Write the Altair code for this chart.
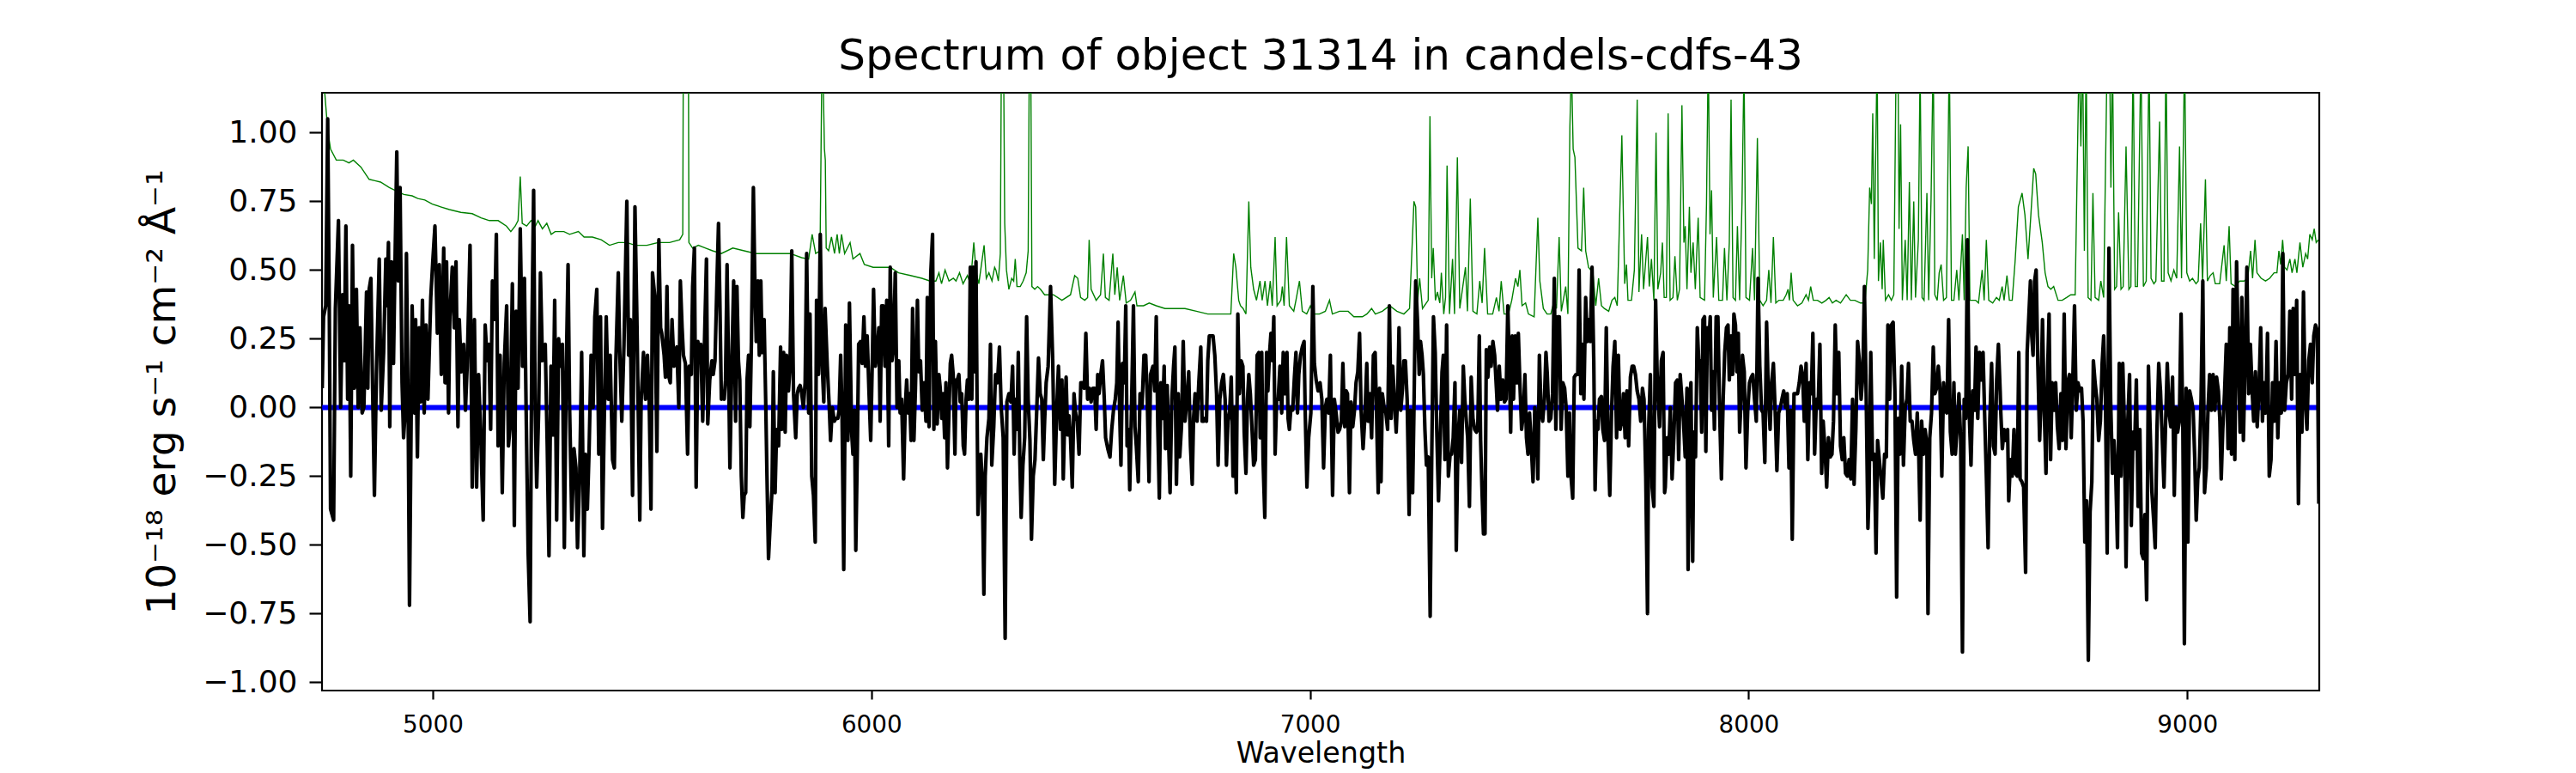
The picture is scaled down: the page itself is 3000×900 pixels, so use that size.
import altair as alt
import pandas as pd

# ---------------- data ----------------
# observed flux (black), pairs of [wavelength (Angstrom), flux (1e-18 erg/s/cm2/A)]
flux_seg1 = [
    [4748, 0.07], [4751, 0.33], [4756, 0.37], [4760.5, 1.05], [4764, 0.39], [4767, -0.37], [4774, -0.41],
    [4778, 0.36], [4785, 0.68], [4790, 0.00], [4794.5, 0.41], [4798, 0.17], [4802, 0.66], [4806, 0.03],
    [4809.5, 0.37], [4813, -0.25], [4817, 0.59], [4821, 0.07], [4826, 0.43], [4830, 0.00], [4834, 0.29],
    [4839, -0.02], [4843, 0.00], [4849, 0.42], [4852, 0.07], [4855, 0.43], [4859, 0.47], [4863, 0.06],
    [4867, -0.32], [4871.5, 0.12], [4878, 0.54], [4882.5, -0.01], [4888, 0.20], [4893, 0.54], [4895.5, 0.37],
    [4899, 0.60], [4902, -0.07], [4906, 0.53], [4910.5, 0.16], [4914, 0.53], [4918, 0.93], [4921.5, 0.46],
    [4925.5, 0.80], [4930, 0.09], [4933.5, -0.11], [4937, -0.02], [4940, 0.56], [4944, -0.04], [4947, -0.72],
    [4953, 0.37], [4958, -0.02], [4961, 0.32], [4965, -0.18], [4969, 0.29], [4972.5, 0.02], [4976.5, 0.39],
    [4980.5, -0.02], [4984.5, 0.30], [4989, 0.03], [4995.5, 0.40], [5000, 0.53], [5005, 0.66], [5010.5, 0.27],
    [5015, 0.52], [5019.5, 0.12], [5025, 0.58], [5028, 0.09], [5031.5, 0.53], [5036, -0.02], [5039, 0.33],
    [5044.5, 0.51], [5049, 0.29], [5053, 0.53], [5057.5, -0.07], [5060.5, 0.32], [5065, 0.13], [5070.5, 0.23],
    [5074.5, -0.01], [5078.5, 0.15], [5085, 0.59], [5090, -0.29], [5095, 0.32], [5100, -0.29], [5104.5, 0.12],
    [5109.5, -0.11], [5115, -0.41], [5119.5, 0.30], [5124, 0.17], [5128, 0.23], [5132, -0.08], [5136, 0.46],
    [5141, 0.32], [5145, 0.63], [5149, -0.14], [5153.5, 0.19], [5158.5, -0.31], [5163, 0.16], [5168.5, 0.37],
    [5172.5, -0.14], [5176.5, -0.07], [5181.5, 0.45], [5186, -0.43], [5190, 0.35], [5194.5, 0.07], [5199.5, 0.65],
    [5204.5, 0.15], [5209, 0.47], [5213, -0.02], [5217.5, -0.53], [5222, -0.78], [5226, 0.27], [5230, 0.79],
    [5233.5, -0.01], [5237, -0.29], [5241.5, -0.01], [5245.5, 0.49], [5250, 0.17], [5256.5, 0.23], [5261, -0.14],
    [5265, -0.54], [5269.5, 0.15], [5274, -0.10], [5278, 0.39], [5282.5, -0.41], [5287, 0.25], [5291, 0.15],
    [5295.5, 0.23], [5300, -0.51], [5304, 0.10], [5308.5, 0.52], [5312, 0.00], [5317, -0.41], [5322, -0.15],
    [5326.5, -0.22], [5330, -0.51], [5335, -0.25], [5339.5, 0.20], [5344.5, -0.54], [5348, -0.17], [5352.5, -0.37],
    [5356.5, -0.15], [5361, 0.19], [5365.5, 0.00], [5369.5, 0.33], [5374, 0.43], [5378.5, -0.17], [5382.5, 0.33],
    [5387, -0.44], [5391.5, 0.00], [5395.5, 0.33], [5400, 0.03], [5404.5, 0.19], [5410, -0.19], [5414, -0.22],
    [5417.5, 0.17], [5423, 0.49], [5426, 0.22], [5431, -0.05], [5436, 0.23], [5442.5, 0.75], [5446.5, 0.19],
    [5450.5, 0.32], [5455.5, -0.32], [5461, 0.73], [5465.5, 0.32], [5472, -0.41], [5475, 0.02], [5480.5, 0.20],
    [5485, 0.03], [5489.5, 0.19], [5493.5, 0.02], [5497.5, -0.37], [5501, 0.49], [5506.5, 0.40], [5511, -0.16],
    [5515.5, 0.61], [5519.5, 0.29],
]
flux_seg2 = [
    [5522, 0.27], [5527.5, 0.19], [5530.5, 0.11], [5534, 0.44], [5537, 0.12], [5541.5, 0.09], [5545.5, 0.32],
    [5550, 0.15], [5553.5, 0.20], [5556.5, 0.22], [5561, 0.00], [5564.5, 0.46], [5568.5, 0.29], [5571.5, 0.19],
    [5576, 0.16], [5581, -0.17], [5584.5, 0.15], [5589.5, 0.12], [5592.5, 0.44], [5596.5, 0.58], [5600.5, -0.29],
    [5604.5, 0.24], [5607.5, 0.17], [5611, 0.23], [5615.5, -0.05], [5618.5, 0.17], [5624, 0.54], [5627, -0.06],
    [5631.5, 0.10], [5636.5, 0.17], [5639.5, 0.12], [5643.5, 0.17], [5647.5, 0.43], [5651.5, 0.67], [5654.5, 0.40],
    [5658, 0.03], [5661, 0.06], [5664.5, 0.03], [5667.5, 0.10], [5671, 0.52], [5674, 0.19], [5677.5, -0.22],
    [5682, 0.17], [5686, 0.46], [5690.5, -0.05], [5693.5, 0.44], [5697, 0.17], [5700, 0.10], [5703.5, -0.25],
    [5707, -0.40], [5710, -0.32], [5713.5, -0.31], [5716.5, 0.10], [5720, 0.19], [5723, -0.07], [5726.5, 0.24],
    [5731, 0.80], [5734, 0.49], [5737.5, 0.24], [5741.5, 0.46], [5744.5, 0.19], [5748, 0.46], [5751, 0.20],
    [5755.5, 0.32], [5759, 0.03], [5762, -0.25], [5765.5, -0.55], [5770, -0.40], [5773.5, -0.30], [5776.5, 0.13],
    [5780.5, -0.31], [5784, -0.08], [5788.5, -0.14], [5793, 0.22], [5796, -0.08], [5800, 0.20], [5803.5, -0.09],
    [5806.5, 0.19], [5811, 0.06], [5814.5, 0.15], [5818.5, 0.57], [5822.5, 0.05], [5827.5, -0.11], [5831, 0.05],
    [5834, 0.07], [5837.5, 0.08], [5840.5, 0.06], [5845, 0.00], [5849, 0.09], [5852.5, 0.56], [5857, -0.02],
    [5860, 0.34], [5864, -0.25], [5868, -0.32], [5872, -0.49], [5875, 0.39], [5879.5, 0.12], [5883.5, 0.63],
    [5887.5, 0.17], [5891.5, 0.02], [5894.5, 0.36], [5899.5, 0.15], [5904, 0.00], [5907, -0.12], [5911, 0.00],
    [5915.5, -0.05], [5919, -0.04], [5923.5, -0.04], [5926.5, -0.01], [5930, 0.19], [5933, -0.01], [5937, -0.59],
    [5941.5, 0.30], [5946.5, -0.12], [5950, 0.38], [5955, -0.09], [5958, -0.17], [5961.5, -0.01], [5964.5, -0.52],
    [5968, -0.15], [5971, 0.23], [5975.5, 0.24], [5979, 0.16], [5983, 0.33], [5986.5, 0.15], [5990.5, 0.26],
    [5994.5, 0.06], [5998.5, -0.12], [6002.5, 0.20], [6005, 0.43], [6009, 0.15], [6013, 0.20], [6017, 0.29],
    [6020, -0.05], [6023.5, 0.37], [6027, 0.37], [6031, 0.15], [6035, 0.39], [6039.5, -0.14], [6043, 0.51],
    [6047, 0.17], [6050.5, 0.22], [6054.5, 0.49], [6058.5, 0.00], [6062.5, 0.17], [6065.5, -0.02], [6069, 0.03],
    [6073.5, -0.26], [6077, -0.01], [6080.5, 0.10], [6084, -0.02], [6087, 0.05], [6090.5, -0.12], [6094, 0.36],
    [6097, -0.12], [6100.5, 0.07], [6105, 0.39], [6108, 0.13], [6112, 0.17], [6116, -0.01], [6120, 0.09],
    [6124.5, -0.05], [6127.5, 0.40], [6131.5, -0.07], [6135.5, 0.49], [6139.5, 0.63], [6142.5, -0.08], [6146, 0.24],
    [6150, -0.06], [6154, 0.12], [6157, 0.07], [6160.5, -0.04], [6163.5, 0.05], [6167, -0.11], [6170, 0.09],
    [6173.5, -0.22], [6176.5, -0.04], [6180, 0.16], [6183, 0.19], [6186.5, 0.12], [6190.5, -0.17], [6193, 0.10],
    [6196, 0.10], [6199.5, 0.12], [6202.5, 0.02], [6206, 0.05], [6209.5, -0.14], [6212.5, -0.17], [6216, 0.03],
    [6219, 0.10], [6222.5, 0.03], [6225.5, 0.51], [6229, 0.03], [6232, 0.51], [6235.5, 0.13], [6238.5, 0.53],
    [6243, -0.39], [6246.5, -0.26], [6249.5, -0.17], [6253, -0.28], [6256.5, -0.68], [6259.5, -0.25], [6263.5, -0.11],
    [6268, -0.04], [6271.5, 0.23], [6274.5, -0.21], [6279, -0.07], [6283, 0.12],
]
flux_seg3 = [
    [6287.5, 0.09], [6292, 0.22], [6296, 0.00], [6300.5, -0.11], [6305, -0.84], [6309, 0.02], [6313.5, 0.05],
    [6318, 0.02], [6322, 0.15], [6325.5, -0.17], [6328.5, 0.03], [6332, -0.08], [6335, 0.20], [6338.5, -0.19],
    [6341.5, -0.40], [6345.5, -0.21], [6349.5, -0.11], [6354, 0.33], [6357.5, 0.03], [6361.5, -0.12], [6365, -0.48],
    [6369, -0.25], [6373, -0.19], [6377, -0.01], [6381, 0.18], [6385, 0.05], [6388.5, 0.03], [6392, -0.19],
    [6395, -0.05], [6398.5, 0.09], [6403, 0.15], [6408.5, 0.44], [6413.5, 0.17], [6418, -0.28], [6422.5, -0.01],
    [6426.5, 0.15], [6431, -0.08], [6434.5, 0.10], [6437.5, -0.26], [6441, -0.02], [6444, 0.11], [6447.5, -0.10],
    [6450.5, -0.03], [6454, -0.11], [6458, -0.29], [6462, 0.05], [6465.5, -0.02], [6469.5, -0.05], [6473.5, -0.17],
    [6477.5, 0.09], [6481.5, 0.09], [6485.5, 0.07], [6489, 0.27], [6493, 0.03], [6497, 0.07], [6501, 0.02],
    [6505, 0.07], [6509, 0.07], [6512.5, -0.08], [6516, 0.12], [6519, 0.05], [6523, 0.12], [6527, 0.17],
    [6531, 0.03], [6534, -0.11], [6539, -0.15], [6544, -0.18], [6548, -0.08], [6552, -0.01], [6556, 0.03],
    [6559.5, 0.09], [6562.5, 0.31], [6566, -0.01], [6569, -0.21], [6572.5, 0.16], [6576.5, 0.09], [6580, 0.37],
    [6583, -0.14], [6586.5, -0.08], [6589, -0.30], [6593, -0.01], [6597.5, 0.37], [6601, -0.07], [6604, -0.14],
    [6608.5, -0.27], [6612.5, 0.05], [6617, 0.00], [6621.5, 0.19], [6625.5, 0.19], [6629, 0.03], [6633, -0.27],
    [6636.5, 0.12], [6642, 0.15], [6646, 0.06], [6649.5, 0.33], [6653, -0.07], [6656.5, -0.33], [6660, 0.09],
    [6664, -0.04], [6667.5, 0.15], [6670.5, -0.15], [6674.5, 0.08], [6678, -0.14], [6681, -0.31], [6685, 0.03],
    [6689, 0.15], [6692, 0.22], [6695.5, -0.28], [6699.5, 0.05], [6703, -0.18], [6707, -0.07], [6711, 0.24],
    [6715, -0.05], [6719.5, 0.03], [6723.5, 0.13], [6727.5, -0.14], [6731.5, -0.28], [6734.5, -0.04], [6738, 0.05],
    [6742.5, -0.05], [6746.5, 0.09], [6751, 0.22], [6754, -0.05], [6757.5, -0.05], [6760.5, -0.04], [6764, -0.05],
    [6767, 0.17], [6770.5, 0.26], [6775, 0.26], [6779, 0.26], [6783, 0.19], [6787, 0.05], [6790.5, -0.21],
    [6794.5, 0.03], [6798.5, 0.09], [6802.5, 0.12], [6806.5, 0.03], [6809.5, -0.21], [6813, -0.05], [6817, -0.01],
    [6820.5, 0.11], [6824.5, -0.25], [6828, 0.00], [6832, -0.31], [6835.5, 0.34], [6839, 0.05], [6843, 0.17],
    [6847, 0.15], [6850, -0.09], [6854, -0.24], [6857.5, 0.03], [6860.5, 0.12], [6864, 0.05], [6867, -0.05],
    [6871.5, -0.21], [6875.5, -0.19], [6879.5, 0.19], [6883.5, 0.20], [6886.5, -0.11], [6890, 0.20], [6893, -0.19],
    [6897, -0.40], [6901, 0.20], [6904, 0.06], [6907.5, 0.19], [6911, 0.27], [6914, 0.17], [6917.5, 0.33],
    [6920.5, -0.17], [6924, 0.03], [6927.5, 0.03], [6931.5, 0.15], [6935.5, -0.02], [6939, 0.20], [6943.5, 0.05],
    [6947.5, 0.20], [6950, -0.04], [6953, -0.08], [6956.5, 0.00], [6960.5, -0.01], [6964.5, 0.11], [6968, 0.20],
    [6971.5, -0.02], [6974.5, 0.12], [6978.5, 0.19], [6982.5, 0.22], [6986.5, 0.24], [6989, -0.01], [6993, -0.29],
    [6997, -0.11], [7002, -0.02], [7006.5, 0.44], [7010, 0.16], [7014, 0.10], [7018.5, 0.06], [7023, 0.09],
    [7027, 0.03], [7031, -0.22], [7035, 0.00], [7038.5, 0.03], [7042.5, -0.02], [7046.5, 0.19],
]
flux_seg4 = [
    [7048, 0.02], [7051.5, -0.32], [7055.5, 0.03], [7059.5, -0.02], [7064, -0.09], [7067.5, -0.08], [7071.5, -0.05],
    [7075, 0.16], [7079, -0.07], [7082.5, 0.06], [7085.5, 0.05], [7090, -0.31], [7093.5, 0.02], [7097.5, -0.07],
    [7101.5, -0.01], [7105, 0.09], [7109, 0.13], [7113, 0.27], [7116.5, -0.01], [7121, -0.15], [7125, -0.04],
    [7129.5, 0.16], [7132.5, -0.05], [7136.5, 0.05], [7140.5, -0.11], [7144.5, 0.19], [7148.5, 0.20], [7152, -0.04],
    [7155.5, -0.31], [7158.5, 0.07], [7162, -0.27], [7165, 0.05], [7169, 0.00], [7173, -0.02], [7177, -0.08],
    [7181, 0.37], [7185, -0.04], [7188.5, 0.15], [7192.5, 0.03], [7196.5, -0.09], [7200, 0.05], [7203, 0.29],
    [7207, -0.01], [7211, 0.07], [7214, 0.17], [7217.5, 0.17], [7221.5, 0.03], [7226, -0.39], [7229, -0.01],
    [7234, -0.31], [7237, -0.01], [7241, 0.46], [7245, 0.32], [7249, 0.12], [7252, 0.24], [7255.5, 0.19],
    [7258.5, 0.12], [7262, -0.08], [7265.5, -0.21], [7269.5, -0.18], [7274, -0.76], [7277.5, -0.19], [7281.5, 0.33],
    [7285.5, 0.20], [7289, -0.08], [7293, -0.34], [7297, -0.12], [7301, 0.13], [7304, 0.19], [7307.5, -0.19],
    [7311.5, 0.30], [7315.5, -0.25], [7319.5, -0.17], [7323, -0.17], [7326.5, -0.11], [7330.5, 0.09], [7333.5, -0.52],
    [7337.5, -0.11], [7341.5, -0.01], [7345.5, -0.20], [7349.5, 0.15], [7353, 0.03], [7356.5, -0.05], [7359.5, -0.11],
    [7363.5, -0.36], [7367.5, 0.11], [7371.5, -0.04], [7375.5, -0.08], [7379.5, -0.09], [7382.5, -0.08], [7386, 0.26],
    [7389, -0.12], [7392.5, -0.32], [7395.5, -0.46], [7399, -0.46], [7402, 0.21], [7405.5, 0.11], [7409.5, 0.22],
    [7413, 0.15], [7417, 0.24], [7421, 0.19], [7425, 0.07], [7427.5, -0.01], [7431.5, 0.15], [7435.5, 0.03],
    [7439.5, 0.10], [7443.5, 0.02], [7447, 0.03], [7451, 0.37], [7454.5, 0.15], [7457.5, -0.09], [7461, 0.26],
    [7464, 0.03], [7468, 0.26], [7472, 0.09], [7475, 0.27], [7478.5, 0.09], [7482.5, -0.08], [7486.5, -0.02],
    [7490, 0.12], [7493.5, -0.11], [7497, -0.17], [7500.5, -0.02], [7504.5, -0.14], [7508.5, -0.27], [7512.5, 0.00],
    [7516.5, -0.08], [7519.5, -0.26], [7523, 0.19], [7527, -0.02], [7530.5, -0.05], [7534.5, 0.03], [7538, 0.20],
    [7541, 0.12], [7545, -0.05], [7549, -0.04], [7553, 0.05], [7557, 0.47], [7560.5, -0.08], [7564.5, 0.33],
    [7568.5, 0.33], [7572.5, -0.08], [7576.5, 0.09], [7580.5, 0.07], [7584, 0.00], [7588, -0.25], [7591.5, -0.02],
    [7594.5, -0.24], [7599, -0.33], [7602.5, 0.11], [7606.5, 0.12], [7610.5, 0.12], [7613.5, 0.50], [7617.5, 0.05],
    [7621, 0.23], [7624.5, 0.03], [7628.5, 0.40], [7632, 0.24], [7635, 0.32], [7639, 0.24], [7643, 0.51],
    [7647, 0.17], [7650, -0.30], [7653.5, -0.05], [7656.5, -0.08], [7660, 0.03], [7664.5, 0.04], [7667.5, -0.08],
    [7671.5, -0.12], [7675.5, 0.29], [7679.5, -0.12], [7683.5, -0.32], [7687.5, -0.02], [7691, 0.15], [7695, 0.24],
    [7699, -0.11], [7703, 0.19], [7707, -0.08], [7711, -0.05], [7714.5, 0.05], [7718.5, -0.11], [7722.5, 0.06],
    [7726.5, -0.14], [7730.5, 0.11], [7734.5, 0.15], [7738, 0.15], [7742, 0.12], [7746, 0.06], [7750, 0.03],
    [7754, -0.05], [7758, 0.07], [7761.5, 0.03], [7765.5, -0.25], [7769.5, -0.75], [7772, -0.08], [7776, 0.12],
    [7780, -0.29], [7784, -0.36], [7788, 0.39], [7791.5, 0.12], [7797, -0.07], [7801, 0.17], [7805, 0.20],
    [7808.5, -0.31],
]
flux_seg5 = [
    [7810, -0.29], [7814, -0.11], [7818, -0.17], [7821.5, 0.00], [7825.5, -0.26], [7829.5, -0.11], [7833.5, 0.09],
    [7837.5, 0.10], [7840.5, -0.19], [7844, 0.12], [7848, 0.03], [7851.5, -0.05], [7855.5, -0.18], [7859.5, 0.07],
    [7862, -0.59], [7866, 0.02], [7868.5, 0.09], [7872.5, -0.56], [7875, -0.09], [7879, -0.18], [7883, 0.29],
    [7886.5, 0.16], [7889.5, 0.17], [7893, -0.09], [7896, 0.32], [7899.5, 0.33], [7902.5, -0.16], [7906, 0.29],
    [7909, 0.22], [7912.5, 0.33], [7915.5, -0.01], [7919, 0.13], [7922, -0.08], [7926, 0.33], [7930, 0.33],
    [7934, -0.02], [7938, -0.26], [7942, 0.03], [7945.5, 0.20], [7949.5, 0.29], [7953, 0.30], [7956, 0.10],
    [7960, 0.26], [7963.5, 0.12], [7966.5, 0.34], [7970, 0.30], [7973, 0.13], [7976.5, 0.27], [7979.5, -0.09],
    [7983, 0.03], [7986, 0.19], [7990, 0.13], [7994, -0.22], [7998, -0.01], [8002, 0.09], [8006, 0.11],
    [8009.5, 0.12], [8013.5, 0.03], [8017.5, -0.05], [8021.5, 0.47], [8025.5, 0.15], [8029.5, -0.01], [8033, -0.02],
    [8037, -0.20], [8041, 0.31], [8045, 0.05], [8049, -0.08], [8052.5, 0.09], [8056.5, 0.16], [8060.5, -0.01],
    [8064.5, -0.23], [8068.5, -0.02], [8072.5, 0.00], [8076, 0.03], [8080, 0.06], [8084, 0.00], [8088, 0.05],
    [8092, -0.22], [8096, -0.01], [8099.5, -0.48], [8103.5, 0.05], [8107.5, 0.05], [8111.5, 0.05], [8115.5, 0.09],
    [8119.5, 0.15], [8123, 0.12], [8127, -0.05], [8131, 0.16], [8135, -0.19], [8139, 0.09], [8143, 0.05],
    [8146.5, 0.27], [8150.5, -0.17], [8154.5, 0.03], [8158.5, 0.00], [8162.5, 0.23], [8166.5, -0.24], [8170, -0.05],
    [8174, -0.15], [8178, -0.29], [8182, -0.11], [8186, -0.18], [8190, -0.17], [8193.5, -0.05], [8197.5, 0.30],
    [8201.5, 0.05], [8205.5, 0.20], [8209.5, -0.14], [8213.5, -0.19], [8217, -0.11], [8221, -0.24], [8225, -0.25],
    [8229, -0.19], [8233, -0.26], [8237, 0.03], [8240.5, -0.28], [8244.5, -0.08], [8248.5, 0.24], [8252.5, 0.17],
    [8256.5, 0.03], [8260.5, 0.12], [8264, 0.44], [8268, 0.05], [8272, -0.44], [8274.5, -0.32], [8278.5, 0.20],
    [8282.5, -0.19], [8286.5, -0.17], [8290.5, -0.53], [8294, -0.12], [8298, -0.19], [8302, -0.26], [8306, -0.33],
    [8310, -0.17], [8314, -0.18], [8317.5, 0.30], [8321.5, 0.03], [8325.5, 0.30], [8329.5, 0.31], [8333.5, 0.06],
    [8337.5, -0.69], [8341, -0.04], [8345, -0.17], [8349, 0.15], [8353, -0.21], [8357, 0.00], [8361, 0.03],
    [8364.5, 0.16], [8368.5, -0.05], [8372.5, -0.05], [8376.5, -0.12], [8380.5, -0.17], [8384.5, -0.02], [8388, -0.18],
    [8391, -0.41], [8394.5, -0.05], [8398.5, -0.17], [8402.5, -0.08], [8406.5, -0.14], [8409, -0.75], [8413, -0.11],
    [8417, -0.02], [8421, 0.22], [8424.5, 0.05], [8428.5, 0.07], [8432.5, 0.15], [8436.5, 0.06], [8440.5, -0.25],
    [8444.5, 0.09], [8448, -0.01], [8452, -0.02], [8456, 0.32], [8460, -0.09], [8464, -0.17], [8468, 0.09],
    [8471.5, -0.17], [8475.5, -0.07], [8479.5, 0.05], [8483.5, -0.12], [8487.5, -0.89], [8491.5, 0.03], [8495, -0.04],
    [8499, 0.61], [8503, -0.02], [8507, -0.21], [8511, 0.06], [8515, -0.01], [8518.5, 0.22], [8522.5, -0.04],
    [8526.5, 0.20], [8530.5, 0.10], [8534.5, 0.20], [8538.5, -0.05], [8542, -0.25], [8546, -0.51], [8550, -0.04],
    [8554, 0.16], [8558, -0.14], [8562, -0.17], [8565.5, 0.10], [8569.5, 0.23], [8573.5, 0.06],
]
flux_seg6 = [
    [8575, -0.02], [8578.5, -0.15], [8582.5, -0.08], [8586.5, -0.12], [8590.5, -0.08], [8593, -0.34], [8597, -0.19],
    [8601, -0.25], [8605, -0.08], [8608.5, -0.24], [8612.5, -0.25], [8616, 0.20], [8619, -0.26], [8623, -0.27],
    [8627, -0.29], [8631.5, -0.60], [8635, 0.20], [8638.5, 0.32], [8642.5, 0.46], [8645.5, 0.26], [8648.5, 0.19],
    [8652, 0.46], [8655.5, 0.50], [8659.5, 0.15], [8663.5, -0.12], [8666, 0.00], [8670, 0.32], [8674, -0.01],
    [8678, -0.24], [8682, 0.15], [8685, 0.34], [8688.5, -0.19], [8692, 0.09], [8696, -0.01], [8700, 0.09],
    [8704, -0.07], [8708, -0.15], [8712, 0.05], [8715.5, -0.12], [8719.5, 0.34], [8723.5, -0.15], [8727.5, 0.09],
    [8731.5, 0.12], [8735.5, -0.11], [8739, 0.09], [8743, 0.37], [8747, -0.01], [8751, 0.09], [8755, 0.06],
    [8759, 0.07], [8762.5, -0.05], [8766.5, -0.49], [8770.5, -0.34], [8774.5, -0.92], [8778.5, -0.38], [8782.5, -0.27],
    [8786, 0.17], [8790, 0.09], [8794, 0.03], [8798, -0.12], [8802, -0.05], [8806, 0.16], [8809.5, 0.26],
    [8813.5, 0.03], [8817.5, -0.53], [8821.5, 0.58], [8825.5, 0.02], [8829.5, -0.24], [8833, -0.12], [8837, -0.24],
    [8841, -0.51], [8845, 0.16], [8849, -0.25], [8853, 0.16], [8856.5, -0.05], [8860.5, -0.58], [8864.5, -0.05],
    [8868.5, 0.12], [8872.5, -0.43], [8876.5, -0.09], [8880, -0.15], [8884, 0.10], [8888, -0.36], [8892, -0.08],
    [8896, -0.53], [8900, -0.55], [8903.5, -0.39], [8907.5, -0.70], [8911.5, 0.15], [8915.5, -0.08], [8919.5, -0.31],
    [8923.5, -0.41], [8927, -0.51], [8931, -0.08], [8935, 0.16], [8939, 0.06], [8943, -0.11], [8947, -0.29],
    [8950.5, -0.07], [8954.5, 0.16], [8958.5, -0.02], [8962.5, -0.07], [8966.5, 0.11], [8970.5, -0.32], [8974, 0.00],
    [8978, -0.09], [8982, -0.05], [8986, 0.34], [8990, -0.07], [8993.5, -0.86], [8997.5, 0.07], [9001.5, -0.49],
    [9005.5, 0.06], [9009.5, 0.03], [9013.5, -0.01], [9017, -0.18], [9020.5, -0.41], [9024, -0.26], [9027.5, -0.22],
    [9031.5, 0.03], [9035.5, 0.46], [9039.5, -0.31], [9043.5, -0.22], [9047.5, 0.00], [9051, 0.12], [9055, -0.01],
    [9059, 0.12], [9063, -0.01], [9067, 0.11], [9071, 0.06], [9074.5, -0.05], [9077.5, -0.26], [9081, -0.08],
    [9085, 0.05], [9089, 0.23], [9093, -0.15], [9097, 0.29], [9101, -0.17], [9104.5, 0.43], [9108.5, -0.19],
    [9112.5, 0.53], [9116.5, 0.20], [9120.5, -0.09], [9124.5, 0.40], [9128, -0.12], [9132, 0.17], [9136, 0.51],
    [9140, 0.05], [9144, 0.23], [9148, 0.06], [9151.5, -0.05], [9155.5, 0.13], [9159.5, -0.07], [9163.5, 0.06],
    [9167.5, 0.29], [9171.5, -0.05], [9175, 0.09], [9179, -0.02], [9183, 0.27], [9187, -0.25], [9191, -0.19],
    [9194.5, 0.09], [9198.5, -0.05], [9202.5, 0.24], [9206.5, -0.11], [9210.5, 0.09], [9214.5, -0.02], [9218, 0.56],
    [9222, -0.01], [9226, 0.09], [9230, 0.12], [9234, 0.35], [9238, 0.03], [9241.5, 0.36], [9245.5, 0.12],
    [9249.5, 0.39], [9253.5, -0.35], [9257.5, 0.12], [9261.5, -0.09], [9265, 0.42], [9269, 0.03], [9273, -0.08],
    [9277, 0.17], [9281, 0.23], [9285, 0.09], [9288.5, 0.26], [9292.5, 0.30], [9296.5, 0.28], [9300, -0.35],
]

# noise / sky spectrum (green); peaks above the frame are clipped in the picture
noise_points = [
    [4748, 1.30], [4754, 1.14], [4760.5, 1.01], [4767, 0.94], [4780, 0.90], [4796, 0.90], [4809, 0.89], [4819, 0.90],
    [4836, 0.875], [4855, 0.83], [4868, 0.825], [4881, 0.82], [4901, 0.80], [4914, 0.79], [4934, 0.775], [4953, 0.77],
    [4966, 0.76], [4982, 0.755], [4999, 0.74], [5018, 0.73], [5038, 0.72], [5064, 0.71], [5090, 0.705], [5110, 0.69],
    [5129, 0.68], [5149, 0.68], [5168, 0.66], [5178, 0.64], [5188, 0.66], [5194.5, 0.68], [5199.5, 0.84], [5204, 0.67],
    [5214, 0.66], [5224, 0.68], [5234, 0.66], [5240, 0.68], [5250, 0.65], [5260, 0.67], [5270, 0.63], [5279, 0.64],
    [5299, 0.64], [5312, 0.63], [5332, 0.64], [5345, 0.62], [5364, 0.62], [5384, 0.61], [5403, 0.59], [5423, 0.60],
    [5442, 0.60], [5462, 0.59], [5488, 0.59], [5514, 0.60], [5521, 0.60], [5540, 0.60], [5563, 0.61], [5570, 0.63],
    [5573.5, 2.50], [5581, 2.50], [5584, 0.60], [5592.5, 0.58], [5605.5, 0.59], [5622, 0.58], [5638, 0.57], [5658, 0.56],
    [5684, 0.58], [5710, 0.57], [5736, 0.56], [5762, 0.56], [5788, 0.56], [5815, 0.56], [5841, 0.545], [5857, 0.54],
    [5865, 0.63], [5873, 0.56], [5883, 0.57], [5887.5, 1.30], [5889.5, 1.25], [5893, 0.94], [5895, 0.90], [5897, 0.58],
    [5902.5, 0.57], [5909, 0.62], [5916, 0.56], [5922, 0.63], [5927, 0.56], [5932, 0.63], [5939, 0.56], [5951.5, 0.60],
    [5958, 0.54], [5974, 0.56], [5984, 0.52], [6004, 0.51], [6023, 0.51], [6043, 0.51], [6062, 0.49], [6089, 0.48],
    [6115, 0.47], [6134, 0.46], [6147, 0.46], [6154, 0.49], [6160, 0.45], [6168, 0.50], [6177, 0.46], [6187, 0.47],
    [6193, 0.46], [6201, 0.49], [6209, 0.45], [6219, 0.48], [6226, 0.45], [6233.5, 0.60], [6239, 0.49], [6245, 0.45],
    [6257, 0.59], [6262, 0.47], [6268, 0.49], [6275, 0.46], [6281, 0.51], [6284, 0.50], [6289.5, 0.46], [6294, 0.56],
    [6297.5, 1.60], [6300.5, 1.50], [6304, 0.67], [6308, 0.50], [6313.5, 0.43], [6320, 0.47], [6324.5, 0.46],
    [6328, 0.54], [6332, 0.44], [6339.5, 0.44], [6346, 0.46], [6353, 0.49], [6357.5, 0.57], [6360.5, 1.40],
    [6363, 1.40], [6366, 0.44], [6372.5, 0.43], [6379, 0.44], [6385.5, 0.43], [6395, 0.41], [6415, 0.41],
    [6434.5, 0.39], [6454, 0.41], [6463.5, 0.48], [6470.5, 0.47], [6477, 0.40], [6486.5, 0.39], [6493, 0.40],
    [6496.5, 0.61], [6501, 0.43], [6512.5, 0.39], [6522.5, 0.41], [6529, 0.56], [6533.5, 0.40], [6542, 0.39],
    [6550.5, 0.56], [6555, 0.41], [6560.5, 0.51], [6566, 0.39], [6574.5, 0.48], [6581, 0.38], [6591, 0.39],
    [6601, 0.42], [6605.5, 0.37], [6620.5, 0.37], [6633.5, 0.38], [6649.5, 0.37], [6669.5, 0.36], [6689, 0.36],
    [6715, 0.36], [6741, 0.35], [6767, 0.34], [6793, 0.34], [6819.5, 0.34], [6826, 0.56], [6831, 0.51], [6837.5, 0.39],
    [6841.5, 0.37], [6847.5, 0.36], [6854, 0.34], [6860.5, 0.75], [6865, 0.51], [6871.5, 0.43], [6878, 0.39],
    [6886, 0.46], [6891, 0.39], [6897.5, 0.46], [6903, 0.37], [6909.5, 0.46], [6914, 0.37], [6920.5, 0.62],
    [6925, 0.37], [6933.5, 0.39], [6937, 0.44], [6941, 0.37], [6946.5, 0.62], [6953, 0.37], [6963, 0.35],
    [6968, 0.39], [6976, 0.46], [6982.5, 0.35], [6992.5, 0.34], [7001, 0.37], [7008.5, 0.34], [7021.5, 0.34],
    [7035, 0.35], [7044.5, 0.39], [7051, 0.34], [7067.5, 0.35], [7087, 0.35], [7100, 0.33], [7119.5, 0.33],
    [7129.5, 0.34], [7140.5, 0.36], [7149, 0.34], [7165, 0.35], [7181.5, 0.37], [7198, 0.35], [7214, 0.34],
    [7227, 0.36], [7237, 0.75], [7241, 0.73], [7245.5, 0.39], [7250, 0.47], [7256.5, 0.36], [7269.5, 0.39],
    [7273.5, 1.06], [7277.5, 0.47], [7281, 0.58], [7286, 0.39], [7290.5, 0.42], [7296, 0.38], [7299.5, 0.49],
    [7305, 0.34], [7309, 0.40], [7312.5, 0.88], [7318, 0.34], [7325, 0.54], [7329.5, 0.34], [7336, 0.91],
    [7341.5, 0.36], [7354.5, 0.51], [7359, 0.35], [7365.5, 0.76], [7371.5, 0.35], [7380.5, 0.34], [7387, 0.46],
    [7392.5, 0.38], [7398, 0.58], [7405, 0.34], [7416.5, 0.34], [7425, 0.40], [7431, 0.35], [7436, 0.46],
    [7442.5, 0.34], [7452.5, 0.34], [7460, 0.39], [7468.5, 0.47], [7474, 0.44], [7478.5, 0.50], [7483.5, 0.37],
    [7491.5, 0.38], [7498, 0.34], [7511, 0.33], [7519.5, 0.69], [7524, 0.46], [7532, 0.36], [7540.5, 0.34],
    [7549, 0.34], [7557, 0.39], [7562, 0.36], [7568, 0.62], [7573, 0.35], [7583, 0.44], [7588, 0.34],
    [7592.5, 1.02], [7596, 1.25], [7600, 0.94], [7604, 0.91], [7611, 0.58], [7619, 0.57], [7624, 0.80],
    [7628.5, 0.57], [7635, 0.51], [7645, 0.49], [7651.5, 0.37], [7658, 0.47], [7664.5, 0.37], [7671, 0.36],
    [7681, 0.35], [7688.5, 0.39], [7695, 0.40], [7700.5, 0.37], [7711, 0.99], [7717.5, 0.45], [7721.5, 0.52],
    [7725, 0.39], [7733, 0.39], [7739.5, 0.50], [7746, 1.12], [7750, 0.42], [7756, 0.63], [7760.5, 0.43],
    [7769.5, 0.62], [7773.5, 0.44], [7778.5, 0.54], [7784, 0.39], [7789, 1.00], [7793, 0.43], [7799.5, 0.49],
    [7803.5, 0.60], [7807.5, 0.40], [7812.5, 0.40], [7816.5, 1.07], [7821, 0.39], [7827.5, 0.40], [7832, 0.55],
    [7837.5, 0.39], [7842.5, 0.43], [7848, 1.10], [7852.5, 0.60], [7855.5, 0.66], [7859.5, 0.43], [7865, 0.73],
    [7868.5, 0.49], [7873.5, 0.60], [7878.5, 0.43], [7885, 0.69], [7889.5, 0.40], [7899.5, 0.39], [7904, 0.74],
    [7908, 1.30], [7912, 0.63], [7915.5, 0.79], [7919.5, 0.40], [7927, 0.62], [7932, 0.39], [7940.5, 0.39],
    [7945, 0.58], [7950.5, 0.39], [7956, 0.60], [7960, 1.12], [7964.5, 0.40], [7970, 0.39], [7974.5, 0.66],
    [7979.5, 0.39], [7985, 0.75], [7989.5, 1.25], [7994, 0.40], [8002, 0.39], [8009, 0.58], [8013.5, 0.39],
    [8020, 0.98], [8025.5, 0.39], [8033, 0.37], [8041, 0.39], [8046, 0.50], [8051, 0.38], [8056.5, 0.62],
    [8062, 0.38], [8069, 0.39], [8079, 0.39], [8085.5, 0.41], [8090, 0.43], [8093, 0.39], [8097, 0.49],
    [8101.5, 0.39], [8111.5, 0.37], [8121.5, 0.38], [8131, 0.41], [8136.5, 0.39], [8141.5, 0.44], [8147.5, 0.39],
    [8157, 0.39], [8167, 0.38], [8176.5, 0.39], [8183.5, 0.40], [8191, 0.38], [8199.5, 0.39], [8209.5, 0.38],
    [8222.5, 0.41], [8232, 0.39], [8242, 0.39], [8255, 0.38], [8265, 0.38], [8271.5, 0.50], [8276, 0.80],
    [8280, 0.74], [8283, 1.07], [8286.5, 0.54], [8290.5, 1.01], [8293, 1.30], [8296, 0.46], [8300.5, 0.60],
    [8304.5, 0.43], [8307, 0.61], [8312, 0.39], [8319, 0.41], [8325.5, 0.39], [8331, 0.41], [8336.5, 1.30],
    [8340.5, 1.30], [8343, 0.65], [8346.5, 1.03], [8350.5, 0.39], [8357, 0.61], [8361.5, 0.39], [8366.5, 0.82],
    [8371, 0.39], [8376.5, 0.75], [8380.5, 0.40], [8387, 0.61], [8391, 1.25], [8395.5, 0.40], [8400, 0.39],
    [8406.5, 0.78], [8410.5, 0.39], [8416, 0.76], [8421, 1.30], [8424.5, 0.41], [8430, 0.39], [8434.5, 0.49],
    [8439, 0.52], [8444.5, 0.39], [8451, 0.40], [8457.5, 1.30], [8462.5, 0.39], [8468, 0.39], [8474.5, 0.50],
    [8479.5, 0.39], [8487.5, 0.63], [8491.5, 0.39], [8496, 0.80], [8500.5, 0.95], [8504.5, 0.39], [8513, 0.39],
    [8517.5, 0.39], [8524, 0.38], [8532.5, 0.50], [8537, 0.39], [8542, 0.61], [8547.5, 0.39], [8556.5, 0.38],
    [8565, 0.40], [8571.5, 0.39], [8578, 0.44], [8582.5, 0.39], [8589, 0.48], [8594.5, 0.39], [8601, 0.39],
    [8607.5, 0.53], [8615, 0.73], [8623.5, 0.78], [8630, 0.70], [8637, 0.54], [8643.5, 0.70], [8650, 0.87],
    [8654.5, 0.85], [8661, 0.70], [8669.5, 0.60], [8676, 0.49], [8682.5, 0.44], [8689, 0.43], [8695.5, 0.44],
    [8705.5, 0.39], [8715, 0.39], [8725, 0.40], [8734.5, 0.41], [8744.5, 0.41], [8751, 1.05], [8753.5, 1.30],
    [8757.5, 0.95], [8761.5, 1.30], [8765.5, 0.57], [8769.5, 1.30], [8774, 0.40], [8780.5, 0.39], [8785, 0.78],
    [8790, 0.40], [8798, 0.39], [8803, 0.46], [8809.5, 0.40], [8817.5, 1.30], [8823, 1.30], [8826, 0.80],
    [8829.5, 1.30], [8834.5, 0.43], [8839, 0.44], [8843.5, 0.71], [8849, 0.43], [8854, 0.44], [8860.5, 0.95],
    [8867, 0.43], [8871.5, 0.44], [8876.5, 1.30], [8881.5, 0.44], [8886.5, 0.44], [8894.5, 1.30], [8900, 0.44],
    [8906.5, 0.46], [8913, 1.30], [8917.5, 0.47], [8924, 0.45], [8928.5, 0.46], [8937, 1.04], [8941.5, 0.46],
    [8947, 0.46], [8951.5, 1.30], [8956.5, 0.49], [8963, 0.46], [8969.5, 0.50], [8976, 0.47], [8982.5, 0.95],
    [8987, 0.47], [8994, 1.30], [8999, 0.49], [9005.5, 0.46], [9012, 0.47], [9020, 0.45], [9025, 0.46],
    [9030.5, 0.67], [9035, 0.46], [9041.5, 0.83], [9046, 0.46], [9052.5, 0.48], [9059, 0.49], [9064, 0.45],
    [9074, 0.45], [9084, 0.59], [9089, 0.46], [9095.5, 0.66], [9100, 0.45], [9110, 0.44], [9119.5, 0.46],
    [9129.5, 0.46], [9138, 0.47], [9144.5, 0.57], [9149, 0.47], [9154.5, 0.61], [9159, 0.49], [9168.5, 0.47],
    [9178.5, 0.46], [9188, 0.47], [9198, 0.49], [9204.5, 0.49], [9209, 0.57], [9213, 0.52], [9217.5, 0.61],
    [9222, 0.51], [9227.5, 0.50], [9234, 0.54], [9239, 0.49], [9245.5, 0.54], [9250, 0.49], [9257, 0.60],
    [9263.5, 0.51], [9270, 0.56], [9274.5, 0.54], [9279.5, 0.63], [9285, 0.61], [9289.5, 0.65], [9294, 0.60],
    [9299, 0.61],
]

# continuum model (blue), zero everywhere
model_points = [[4748, 0.0], [9300, 0.0]]

title_text = "Spectrum of object 31314 in candels-cdfs-43"
x_title = "Wavelength"
y_title = "10\u207b\u00b9\u2078 erg s\u207b\u00b9 cm\u207b\u00b2 \u00c5\u207b\u00b9"
x_ticks = [5000, 6000, 7000, 8000, 9000]
y_ticks = [-1.0, -0.75, -0.5, -0.25, 0.0, 0.25, 0.5, 0.75, 1.0]

# ---------------- chart ----------------
FONT = "DejaVu Sans"
W, H = 2326, 696
XDOM = [4747.5, 9301]
YDOM = [-1.03, 1.145]

flux_df = pd.DataFrame(flux_seg1 + flux_seg2 + flux_seg3 + flux_seg4 + flux_seg5 + flux_seg6,
                       columns=["wave", "flux"])
noise_df = pd.DataFrame(noise_points, columns=["wave", "flux"])
model_df = pd.DataFrame(model_points, columns=["wave", "flux"])

xs = alt.Scale(domain=XDOM, nice=False, zero=False)
ys = alt.Scale(domain=YDOM, nice=False, zero=False)

x_axis = alt.Axis(
    values=x_ticks, format="d", title=x_title, grid=False, domain=False,
    tickSize=10, tickWidth=2.2, tickColor="black",
    labelFont=FONT, labelFontSize=27.8, labelColor="black", labelBaseline="alphabetic",
    labelPadding=38, labelOverlap=False, labelFlush=False,
    titleFont=FONT, titleFontSize=33.3, titleFontWeight="normal", titleColor="black",
    titleBaseline="alphabetic", titleAlign="center", titleX=W / 2, titleY=83,
)
y_axis = alt.Axis(
    values=y_ticks, format=".2f", title=y_title, grid=False, domain=False,
    tickSize=15, tickWidth=2.2, tickColor="black",
    labelFont=FONT, labelFontSize=36, labelColor="black", labelPadding=14,
    labelOverlap=False, labelFlush=False,
    titleFont=FONT, titleFontSize=47, titleFontWeight="normal", titleColor="black",
    titleAngle=270, titleBaseline="alphabetic", titleAlign="center", titleX=-172, titleY=H / 2,
)

noise = alt.Chart(noise_df).mark_line(color="#008000", strokeWidth=1.4, clip=True).encode(
    x=alt.X("wave:Q", scale=xs, axis=x_axis),
    y=alt.Y("flux:Q", scale=ys, axis=y_axis),
)
model = alt.Chart(model_df).mark_line(color="#0000ff", strokeWidth=6, clip=True).encode(
    x=alt.X("wave:Q", scale=xs),
    y=alt.Y("flux:Q", scale=ys),
)
spec = alt.Chart(flux_df).mark_line(color="black", strokeWidth=4.2, strokeJoin="round", clip=True).encode(
    x=alt.X("wave:Q", scale=xs),
    y=alt.Y("flux:Q", scale=ys),
)

chart = alt.layer(noise, model, spec).properties(
    width=W, height=H,
    title=alt.TitleParams(title_text, font=FONT, fontSize=50, fontWeight="normal", color="black",
                          anchor="middle", baseline="alphabetic", offset=25, dy=48),
    autosize=alt.AutoSizeParams(type="none"),
    padding={"left": 367, "top": 100, "right": 291, "bottom": 96},
).configure(background="white").configure_view(stroke="black", strokeWidth=2.2)

chart.save("out.html", embed_options={"renderer": "svg", "actions": False})
